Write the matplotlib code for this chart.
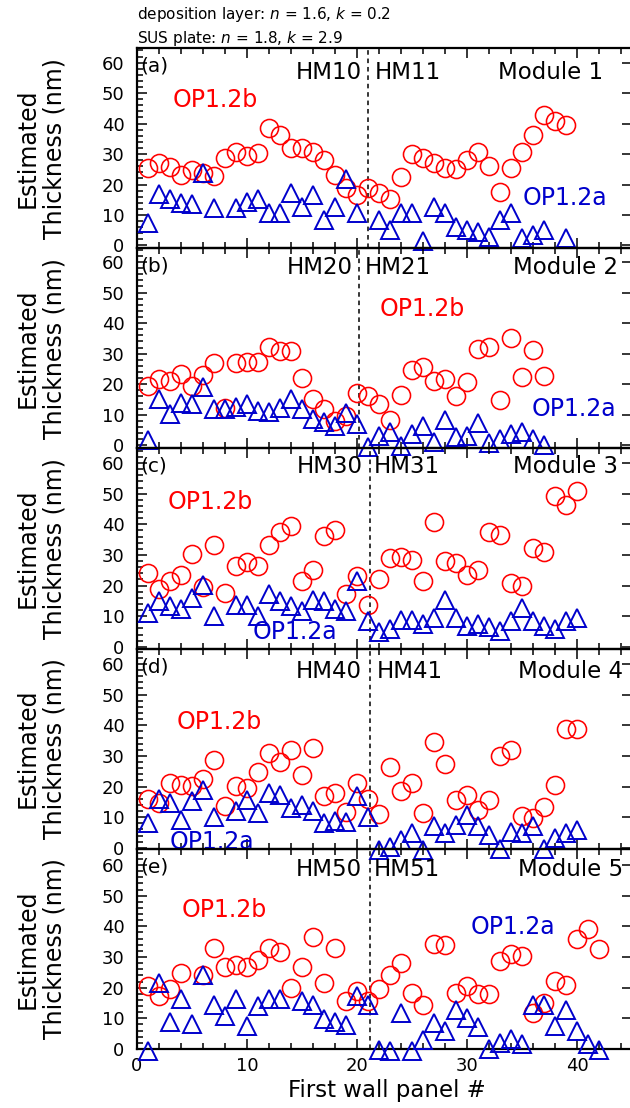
import matplotlib
matplotlib.use('Agg')
import matplotlib.pyplot as plt
import numpy as np
from matplotlib.ticker import MultipleLocator

plt.rcParams['font.family'] = ['DejaVu Sans']
plt.rcParams['mathtext.fontset'] = 'dejavusans'

N = np.nan
# ---------------- data (estimated thickness, nm) ----------------
op12b_a = [25.3, 27.0, 25.9, 23.1, 24.8, 23.7, 22.8, 28.6, 30.8, 29.2, 30.3, 38.5, 36.3, 31.9, 31.9,
           30.8, 28.1, 23.1, 18.8, 16.6, 18.8, 17.1, 15.2, 22.6, 30.0, 28.6, 27.2, 25.3, 25.0, 28.1,
           30.8, 26.1, 17.7, 25.3, 30.8, 36.3, 42.8, 40.7, 39.6]
op12a_a = [7.5, 16.8, 15.2, 13.8, 13.6, 23.9, 12.2, N, 12.2, 14.1, 15.2, 10.6, 10.8, 17.1, 12.7,
           16.6, 8.2, 12.7, 21.7, 10.6, N, 8.2, 5.1, 10.6, 10.6, 1.3, 12.7, 10.6, 6.2, 5.1,
           4.5, 2.9, 8.4, 10.6, 2.4, 3.5, 5.1, N, 2.4]

op12b_b = [19.5, 21.7, 21.1, 23.3, 19.5, 23.0, 26.9, 12.1, 26.9, 27.2, 27.2, 32.1, 31.0, 31.0, 21.9,
           15.3, 11.9, 8.0, 9.7, 17.1, 16.2, 13.5, 8.4, 16.4, 24.8, 25.5, 21.1, 21.7, 16.0, 20.6,
           31.5, 32.1, 14.9, 35.0, 22.2, 31.3, 22.8]
op12a_b = [1.8, 15.1, 10.2, 14.0, 13.5, 19.0, 11.9, 11.9, 12.7, 13.5, 11.3, 11.0, 12.1, 15.1, 11.9,
           8.6, 7.5, 6.4, 10.5, 6.9, -0.5, 2.9, 4.4, -0.3, 3.7, 6.4, 1.1, 8.4, 2.6, 3.1,
           7.3, 0.9, 2.2, 3.7, 4.4, 2.2, 0.0]

op12b_c = [24.1, 18.9, 21.4, 23.6, 30.4, 19.6, 33.4, 17.6, 26.3, 27.6, 26.3, 33.4, 37.4, 39.6, 21.4,
           25.0, 36.1, 38.3, 17.1, 23.0, 13.5, 22.0, 29.0, 29.3, 28.5, 21.4, 40.7, 27.9, 27.4, 23.3,
           25.2, 37.4, 36.6, 20.7, 20.0, 32.3, 30.9, 49.1, 46.4, 50.8]
op12a_c = [11.1, 14.9, 13.3, 12.2, 16.0, 20.3, 10.0, N, 13.8, 13.5, 10.2, 17.1, 14.9, 13.3, 11.6,
           15.4, 14.9, 12.2, 11.6, 21.4, 8.4, 4.8, 5.7, 8.9, 8.9, 7.3, 9.5, 15.4, 9.5, 6.7,
           7.3, 6.5, 5.1, 8.4, 12.7, 8.4, 6.7, 5.7, 8.4, 9.5]

op12b_d = [15.9, 14.6, 21.2, 20.6, 20.3, 22.5, 28.8, 13.7, 20.3, 19.5, 24.6, 31.0, 27.9, 31.8, 23.9,
           32.6, 16.8, 17.9, 11.6, 21.2, 15.9, 11.1, 26.4, 18.4, 21.2, 11.3, 34.5, 27.5, 15.5, 17.3,
           12.4, 15.7, 30.1, 31.8, 10.3, 9.7, 13.3, 20.6, 38.8, 38.8]
op12a_d = [8.1, 15.9, 14.6, 9.2, 15.2, 19.0, 10.0, N, 11.9, 15.7, 11.3, 17.9, 17.3, 13.0, 14.1,
           11.9, 8.1, 8.9, 8.6, 16.8, 10.0, -0.7, 0.4, 2.6, 4.8, -0.7, 7.0, 4.8, 7.5, 10.8,
           7.0, 4.3, -0.5, 5.3, 4.8, 7.0, -0.4, 3.2, 5.0, 5.9]

op12b_e = [20.5, 17.3, 19.5, 24.7, N, 24.0, 32.8, 26.6, 27.3, 26.6, 29.1, 32.8, 31.5, 20.0, 26.9,
           36.4, 21.6, 33.1, 15.6, 18.9, 15.6, 19.5, 24.0, 28.2, 18.4, 14.5, 34.2, 33.9, 18.4, 20.5,
           17.8, 17.8, 28.7, 30.9, 30.4, 11.8, 14.9, 22.2, 20.8, 35.8, 39.1, 32.6]
op12a_e = [-0.8, 21.6, 8.7, 16.4, 8.0, 24.0, 14.5, 10.9, 16.4, 7.4, 14.0, 16.2, 16.4, N, 15.6,
           14.2, 9.8, 8.7, 7.7, 17.3, 14.5, -0.2, -0.8, 11.8, -0.8, 2.8, 8.5, 5.8, 12.7, 10.2,
           7.2, 0.0, 2.0, 3.3, 1.7, 14.5, 14.2, 7.4, 12.7, 5.8, 1.7, -0.2]

panel_tags = ['(a)', '(b)', '(c)', '(d)', '(e)']
hm_left = ['HM10', 'HM20', 'HM30', 'HM40', 'HM50']
hm_right = ['HM11', 'HM21', 'HM31', 'HM41', 'HM51']
modules = ['Module 1', 'Module 2', 'Module 3', 'Module 4', 'Module 5']
op12b_all = [op12b_a, op12b_b, op12b_c, op12b_d, op12b_e]
op12a_all = [op12a_a, op12a_b, op12a_c, op12a_d, op12a_e]
boundary = [21.0, 20.2, 21.2, 21.2, 21.2]
x_ticks = [0, 10, 20, 30, 40]
y_ticks = [0, 10, 20, 30, 40, 50, 60]

# ---------------- styling / layout ----------------
RED = '#FF0000'
BLUE = '#0000CC'
W, H = 630, 1108
fig = plt.figure(figsize=(W / 100, H / 100), dpi=100)

ylims = [(-0.9, 64.8), (-1.0, 64.5), (-0.6, 64.8), (-0.3, 65.0), (0.0, 65.3)]
# text positions: (hm_left_x, hm_right_x, hm_y, module_x, b_x, b_y, a_x, a_y)
txt = [
    (20.45, 21.6, 0.88, 42.4, 3.2, 0.74, 35.1, 0.25),
    (19.6, 20.7, 0.905, 43.7, 22.1, 0.695, 35.9, 0.195),
    (20.5, 21.5, 0.91, 43.7, 2.8, 0.73, 10.5, 0.085),
    (20.45, 21.8, 0.885, 44.2, 3.6, 0.635, 3.0, 0.035),
    (20.45, 21.5, 0.895, 44.2, 4.1, 0.695, 30.3, 0.61),
]

top0 = 48.0
ph = 200.2
for i in range(5):
    top = top0 + i * ph
    ax = fig.add_axes([137 / W, 1 - (top + ph) / H, 495 / W, ph / H])
    ax.set_facecolor('none')

    vb = op12b_all[i]
    va = op12a_all[i]
    xb = np.arange(1, len(vb) + 1)
    xa = np.arange(1, len(va) + 1)
    ax.plot(xb, vb, ls='none', marker='o', ms=13, mfc='none', mec=RED, mew=1.15,
            clip_on=False, zorder=3)
    ax.plot(xa, va, ls='none', marker='^', ms=13.5, mfc='none', mec=BLUE, mew=1.4,
            clip_on=False, zorder=3)
    ax.axvline(boundary[i], color='k', lw=1.1, ls=(0, (3, 2.5)), zorder=2)

    ax.set_xlim(0, 45)
    ax.set_ylim(*ylims[i])
    ax.set_xticks(x_ticks)
    ax.set_yticks(y_ticks)
    ax.xaxis.set_minor_locator(MultipleLocator(2))
    ax.yaxis.set_minor_locator(MultipleLocator(2))
    ax.tick_params(which='both', direction='in', top=True, right=True, width=1.1,
                   labelsize=13, pad=9)
    ax.tick_params(which='major', length=7)
    ax.tick_params(which='minor', length=4, right=False)
    ax.tick_params(axis='x', pad=6)
    if i < 4:
        ax.tick_params(axis='x', labelbottom=False)
    for s in ax.spines.values():
        s.set_linewidth(1.6)

    hx1, hx2, hy, mx, bx, by, axx, ay = txt[i]
    tr = ax.get_xaxis_transform()
    ax.text(0.25, 0.91, panel_tags[i], transform=tr, fontsize=14.5, ha='left', va='center')
    ax.text(hx1, hy, hm_left[i], transform=tr, fontsize=16.5, ha='right', va='center')
    ax.text(hx2, hy, hm_right[i], transform=tr, fontsize=16.5, ha='left', va='center')
    ax.text(mx, hy, modules[i], transform=tr, fontsize=16.5, ha='right', va='center')
    ax.text(bx, by, 'OP1.2b', transform=tr, fontsize=17, ha='left', va='center', color=RED)
    ax.text(axx, ay, 'OP1.2a', transform=tr, fontsize=17, ha='left', va='center', color=BLUE)

    fig.text(41 / W, 1 - (top + ph / 2) / H, 'Estimated\nThickness (nm)', rotation=90,
             ha='center', va='center', multialignment='center', fontsize=17, linespacing=1.15)

fig.text(387 / W, 1 - 1097 / H, 'First wall panel #', ha='center', va='baseline', fontsize=16.5)
fig.text(137 / W, 1 - 19.5 / H, 'deposition layer: $n$ = 1.6, $k$ = 0.2', ha='left',
         va='baseline', fontsize=11)
fig.text(137 / W, 1 - 42.5 / H, 'SUS plate: $n$ = 1.8, $k$ = 2.9', ha='left',
         va='baseline', fontsize=11)

fig.savefig('out.png', dpi=100)
